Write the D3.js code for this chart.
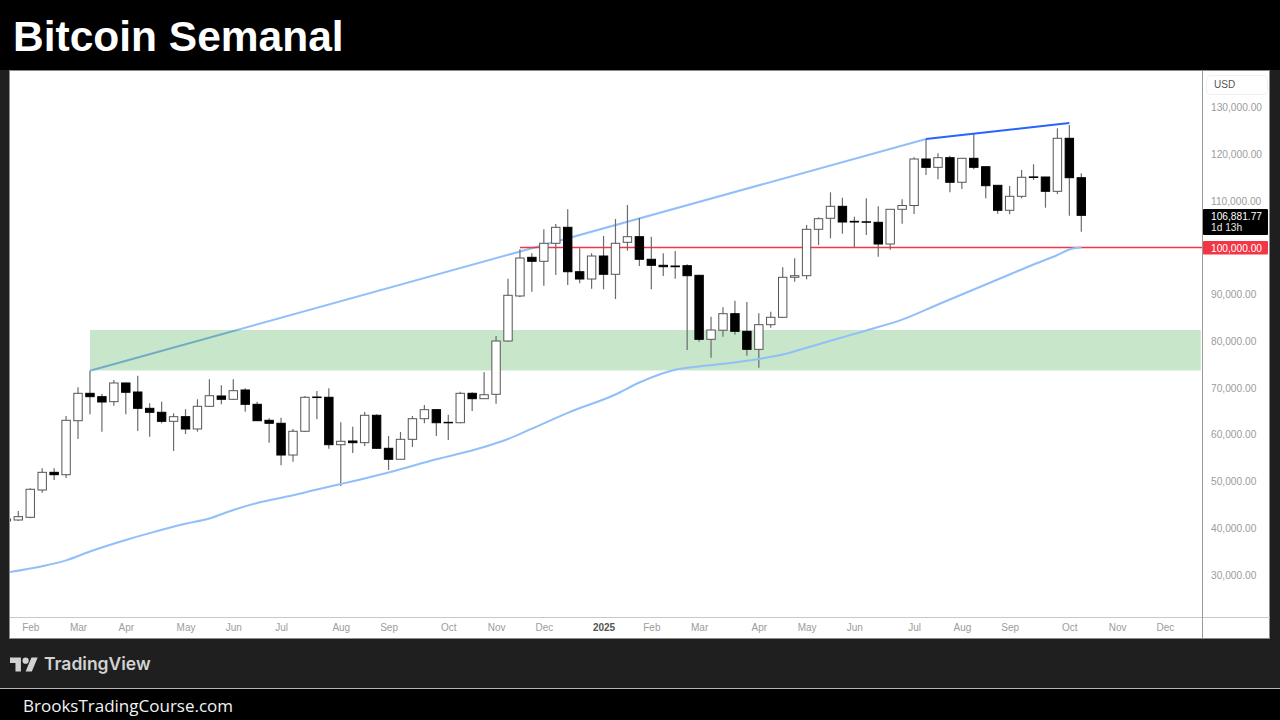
<!DOCTYPE html>
<html lang="es">
<head>
<meta charset="utf-8">
<title>Bitcoin Semanal</title>
<script src="https://cdn.jsdelivr.net/npm/d3@7/dist/d3.min.js"></script>
<style>
  html, body { margin: 0; padding: 0; background: #000; overflow: hidden; }
  svg { display: block; }
  text { font-family: "Liberation Sans", Arial, sans-serif; }
</style>
</head>
<body>
<svg id="chart" width="1280" height="720"></svg>
<script>
// Weekly BTC/USD candles, prices in thousands of dollars. Week -1 is the partly hidden first bar.
const firstWeek = -1;
const opens = [41.5,41.71,42.29,48.13,51.91,51.4,62.95,68.81,68.09,67.02,71.02,69.09,65.6,64.75,62.82,63.81,61.18,66.03,68.24,67.53,69.52,66.46,63.04,62.4,55.61,60.69,68.02,67.96,57.82,58.61,58.25,64.11,57.05,54.7,58.97,63.38,65.31,62.6,62.52,68.81,67.66,68.6,80.0,89.63,97.9,97.05,100.9,104.32,94.82,93.26,98.18,94.27,101.11,102.31,97.48,96.19,96.04,96.11,94.05,80.36,82.3,85.84,82.07,78.22,83.49,85.07,93.63,93.97,103.89,106.25,108.81,105.6,105.5,105.39,100.75,108.17,108.98,118.93,117.15,119.21,113.95,119.08,117.28,113.3,107.96,110.95,115.1,115.08,112.02,123.36,114.93];
const closes = [41.93,42.42,48.28,51.91,51.4,63.04,68.81,68.09,66.95,71.02,69.03,65.6,64.75,62.82,63.81,61.18,66.03,68.3,67.53,69.37,66.46,62.95,62.4,55.61,60.69,67.96,67.9,57.82,58.55,58.25,64.11,57.05,54.7,58.97,63.38,65.31,62.52,62.5,68.81,67.66,68.51,80.0,89.78,97.75,97.05,100.9,104.32,94.82,93.26,98.18,94.27,100.9,102.31,97.48,96.19,95.89,95.89,93.97,80.36,82.35,85.84,82.07,78.22,83.49,85.07,93.63,93.97,103.89,106.16,108.81,105.45,105.45,105.4,100.75,108.17,108.98,118.93,117.15,119.21,113.95,119.08,117.15,113.22,107.96,110.95,115.02,114.98,112.02,123.36,114.93,106.88177];
const highs = [42.14,43.64,48.49,52.77,52.77,63.96,70.1,73.65,68.66,71.66,71.08,72.58,66.67,67.02,64.53,65.39,67.53,71.81,70.52,71.81,69.88,67.02,63.47,63.59,61.18,68.24,69.31,69.88,62.61,61.67,64.81,64.32,59.68,60.53,63.96,66.31,65.39,64.24,69.16,69.03,73.3,81.07,93.33,99.61,98.76,103.89,105.03,108.17,99.83,98.76,102.46,106.1,109.09,106.31,102.31,98.76,99.25,96.41,94.18,85.2,87.21,88.62,88.34,85.93,86.27,95.76,97.69,104.81,106.46,111.81,110.65,106.59,110.52,108.83,108.24,110.31,119.29,123.21,120.15,119.64,119.1,124.28,117.3,113.3,113.15,116.58,117.8,115.1,125.5,126.2,115.87];
const lows = [41.29,41.56,42.08,47.55,50.27,50.7,59.04,64.32,60.6,66.16,64.32,60.75,59.53,62.4,56.47,60.11,60.6,65.95,66.46,67.38,64.88,62.89,58.25,53.41,54.18,60.6,63.25,56.96,48.98,56.04,57.54,56.9,52.41,54.61,57.33,62.4,59.68,58.82,62.4,65.03,67.59,66.59,79.9,89.35,90.55,91.83,94.12,91.98,92.34,91.19,91.06,88.98,99.32,96.04,91.06,93.9,93.33,78.08,79.85,76.43,80.92,81.35,76.86,74.29,82.85,84.9,92.68,93.2,100.53,101.97,102.95,100.04,102.67,98.03,99.53,105.09,107.17,115.51,114.59,111.81,112.51,116.73,110.52,107.23,107.1,110.52,114.44,108.51,111.44,106.8,103.38];

// Moving average, sampled at selected weeks.
const maWeeks = [-0.7,2,4,6,9,11,14,16,18,20,23,25,27,31,35,39,41,43,46,50,52,55,57,59,62,64,66,68,71,74,77,80,83,85,87,88,89];
const maValues = [30.59,31.83,33.07,34.97,37.43,38.9,40.9,42.03,43.85,45.35,47.0,48.24,49.41,51.87,54.7,57.33,59.04,61.25,64.64,68.56,71.12,73.86,74.55,75.12,76.15,77.11,78.55,80.06,82.25,84.56,87.81,91.02,94.22,96.36,98.4,99.57,100.04];

// Drawn levels and lines.
const supportWeeks = [6, 99];
const supportZone = [73.7, 82.35];
const lightTrendWeeks = [6, 76];
const lightTrendPrices = [73.65, 123.21];
const darkTrendWeeks = [76, 88];
const darkTrendPrices = [123.21, 126.63];
const roundLevel = 100;
const roundLevelStartWeek = 42;
const lastPrice = 106.88177;

// Axis labels.
const priceTicks = [30,40,50,60,70,80,90,100,110,120,130];
const monthWeeks = [1,5,9,14,18,22,27,31,36,40,44,49,53,57,62,66,70,75,79,83,88,92,96];
const monthLabels = ["Feb","Mar","Apr","May","Jun","Jul","Aug","Sep","Oct","Nov","Dec","2025","Feb","Mar","Apr","May","Jun","Jul","Aug","Sep","Oct","Nov","Dec"];

const plot = { left: 10, right: 1203, top: 71, bottom: 617, edge: 1270, floor: 639 };
const x = d3.scaleLinear().domain([0, 89]).range([18.3, 1081.3]);
const y = d3.scaleLinear().domain([30, 130]).range([574.75, 107.25]);
const usd = d3.format(",.2f");

const svg = d3.select("#chart");

// Page bands
svg.append("rect").attr("width", 1280).attr("height", 720).attr("fill", "#000");
svg.append("rect").attr("y", 70).attr("width", 1280).attr("height", 618).attr("fill", "#1f1f1f");
svg.append("rect").attr("y", 688).attr("width", 1280).attr("height", 1).attr("fill", "#b5b5b5");
svg.append("text").attr("x", 13).attr("y", 51)
  .attr("font-size", 42.5).attr("font-weight", 700).attr("fill", "#fff").text("Bitcoin Semanal");
svg.append("text").attr("x", 23).attr("y", 712)
  .style("font-family", "'Open Sans', sans-serif")
  .attr("font-size", 17).attr("fill", "#f2f2f2").text("BrooksTradingCourse.com");

// Chart panel
svg.append("rect")
  .attr("x", plot.left - 0.5).attr("y", plot.top - 0.5)
  .attr("width", plot.edge - plot.left).attr("height", plot.floor - plot.top)
  .attr("fill", "#fff").attr("stroke", "#8c8c8c");

const clip = svg.append("defs").append("clipPath").attr("id", "plot-clip");
clip.append("rect").attr("x", plot.left).attr("y", plot.top)
  .attr("width", plot.right - plot.left).attr("height", plot.bottom - plot.top);
const marks = svg.append("g").attr("clip-path", "url(#plot-clip)");

const segment = d3.line().x(d => x(d[0])).y(d => y(d[1]));

// The rising trend line sits beneath the zone so the overlap tints it.
marks.append("path")
  .attr("d", segment(d3.zip(lightTrendWeeks, lightTrendPrices)))
  .attr("fill", "none").attr("stroke", "#90bff9").attr("stroke-width", 2);

marks.append("rect")
  .attr("x", x(supportWeeks[0])).attr("width", x(supportWeeks[1]) - x(supportWeeks[0]))
  .attr("y", y(supportZone[1])).attr("height", y(supportZone[0]) - y(supportZone[1]))
  .attr("fill", "#c8e6c9").style("mix-blend-mode", "multiply");

marks.append("line")
  .attr("x1", x(roundLevelStartWeek)).attr("x2", plot.right)
  .attr("y1", y(roundLevel)).attr("y2", y(roundLevel))
  .attr("stroke", "#f23645").attr("stroke-width", 1.5);

// Candles
const candles = opens.map((o, i) => ({
  week: firstWeek + i, open: o, close: closes[i], high: highs[i], low: lows[i]
}));
const candle = marks.append("g").selectAll("g").data(candles).join("g");
candle.append("line")
  .attr("x1", d => x(d.week)).attr("x2", d => x(d.week))
  .attr("y1", d => y(d.high)).attr("y2", d => y(d.low))
  .attr("stroke", "#6b6b6b").attr("stroke-width", 1.2);
candle.append("rect")
  .attr("x", d => x(d.week) - 4.2).attr("width", 8.4)
  .attr("y", d => y(Math.max(d.open, d.close)))
  .attr("height", d => Math.abs(y(d.open) - y(d.close)))
  .attr("fill", d => d.close >= d.open ? "#fff" : "#000")
  .attr("stroke", d => d.close >= d.open ? "#555" : "#000")
  .attr("stroke-width", 1);

// Moving average and the steeper final trend segment
marks.append("path")
  .attr("d", d3.line().curve(d3.curveMonotoneX)
    .x(d => x(d[0])).y(d => y(d[1]))(d3.zip(maWeeks, maValues)))
  .attr("fill", "none").attr("stroke", "#90bff9").attr("stroke-width", 2);
marks.append("path")
  .attr("d", segment(d3.zip(darkTrendWeeks, darkTrendPrices)))
  .attr("fill", "none").attr("stroke", "#2962ff").attr("stroke-width", 2);

// Panel dividers
svg.append("line").attr("x1", plot.left).attr("x2", plot.edge)
  .attr("y1", plot.bottom + 0.5).attr("y2", plot.bottom + 0.5).attr("stroke", "#c8c8c8");
svg.append("line").attr("x1", plot.right - 0.5).attr("x2", plot.right - 0.5)
  .attr("y1", plot.top).attr("y2", plot.floor).attr("stroke", "#9a9a9a");

// Price axis
const priceAxis = svg.append("g")
  .attr("transform", `translate(${plot.right + 5},0)`)
  .call(d3.axisRight(y).tickValues(priceTicks).tickSize(0).tickPadding(3)
    .tickFormat(v => usd(v * 1000)));
priceAxis.select(".domain").remove();
priceAxis.selectAll("text")
  .style("font-family", "'Liberation Sans', Arial, sans-serif")
  .attr("font-size", 10.2).attr("fill", "#9c9c9c");

// Month axis
const timeAxis = svg.append("g")
  .attr("transform", `translate(0,${plot.bottom})`)
  .call(d3.axisBottom(x).tickValues(monthWeeks).tickSize(0).tickPadding(7)
    .tickFormat((w, i) => monthLabels[i]));
timeAxis.select(".domain").remove();
timeAxis.selectAll("text")
  .style("font-family", "'Liberation Sans', Arial, sans-serif")
  .attr("font-size", 10)
  .attr("font-weight", (w, i) => monthLabels[i] === "2025" ? 700 : 400)
  .attr("fill", (w, i) => monthLabels[i] === "2025" ? "#555" : "#9c9c9c");

// Currency chip
svg.append("rect").attr("x", 1206.5).attr("y", 75.5).attr("width", 61).attr("height", 19)
  .attr("rx", 4).attr("fill", "#fff").attr("stroke", "#f0f0f0");
svg.append("text").attr("x", 1214).attr("y", 88).attr("font-size", 10).attr("fill", "#555").text("USD");

// Last price tag with bar countdown
svg.append("rect").attr("x", plot.right).attr("y", 209).attr("width", 65).attr("height", 26)
  .attr("rx", 1).attr("fill", "#000");
svg.append("text").attr("x", 1211).attr("y", 220).attr("font-size", 10.2).attr("fill", "#fff")
  .text(usd(lastPrice * 1000));
svg.append("text").attr("x", 1211).attr("y", 231).attr("font-size", 10.2).attr("fill", "#e6e6e6")
  .text("1d 13h");

// Round level tag
svg.append("rect").attr("x", plot.right).attr("y", y(roundLevel) - 6.5).attr("width", 65).attr("height", 13.5)
  .attr("rx", 1).attr("fill", "#f23645");
svg.append("text").attr("x", 1211).attr("y", y(roundLevel) + 4).attr("font-size", 10.2).attr("fill", "#fff")
  .text(usd(roundLevel * 1000));

// Brand mark in the footer band
const brand = svg.append("g").attr("transform", "translate(10,656) scale(0.78)").attr("fill", "#d2d2d2");
brand.append("path").attr("d", "M14 20H7V9H0V2h14v18zM28 20h-8l7.5-18h8L28 20z");
brand.append("circle").attr("cx", 20).attr("cy", 6).attr("r", 4);
svg.append("text").attr("x", 44).attr("y", 670)
  .style("font-family", "Inter, sans-serif")
  .attr("font-size", 17.5).attr("font-weight", 600).attr("fill", "#d2d2d2").text("TradingView");
</script>
</body>
</html>
